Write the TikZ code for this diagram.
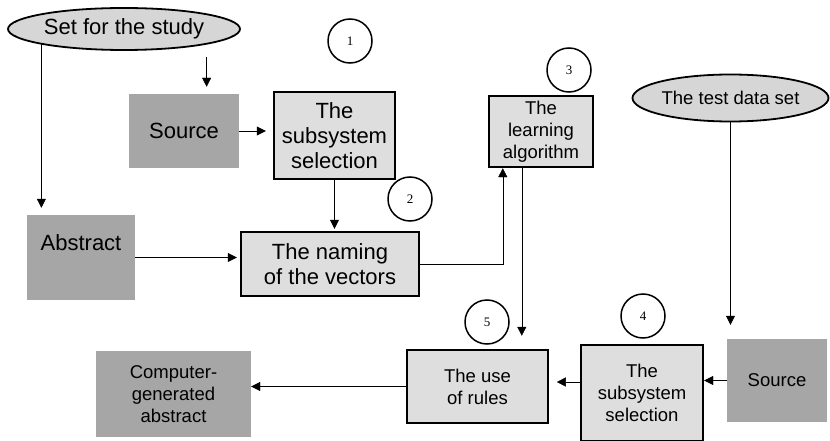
\documentclass[tikz,border=0pt]{standalone}
\usepackage{fontspec}
\setmainfont{Liberation Sans}
\newfontfamily\numfont{Liberation Serif}
\usepackage{xcolor}
\usetikzlibrary{arrows.meta,positioning,shapes.geometric}

\definecolor{darkbox}{RGB}{166,166,166}
\definecolor{lightbox}{RGB}{222,222,222}
\definecolor{ovalfill}{RGB}{214,214,214}

\begin{document}
\begin{tikzpicture}[
  x=1pt, y=-1pt,
  bigtxt/.style={font=\fontsize{22}{25}\selectfont},
  smalltxt/.style={font=\fontsize{18.5}{22}\selectfont},
  plain/.style={fill=darkbox, align=center, inner sep=0pt},
  stage/.style={draw, line width=2.4pt, fill=lightbox, align=center, inner sep=0pt},
  oval/.style={ellipse, draw, line width=1.8pt, fill=ovalfill, inner sep=0pt},
  num/.style={circle, draw, line width=1.5pt, minimum size=44pt, inner sep=0pt,
              font=\numfont\fontsize{13}{15}\selectfont},
  >={Triangle[length=9pt,width=9pt]}
]
\useasboundingbox (0,0) rectangle (830,441);

% training side
\node[oval, bigtxt, minimum width=232pt, minimum height=42pt] (study) at (124,29) {Set for the study};
\node[plain, bigtxt, minimum width=110pt, minimum height=74pt] (src1) at (184,131) {Source};
\node[stage, bigtxt, minimum width=121pt, minimum height=87pt] (sub1) at (334.5,135.5)
  {The\\subsystem\\selection};
\node[plain, bigtxt, minimum width=108pt, minimum height=85pt, text height=16pt, text depth=30pt]
  (abs) at (81,257.5) {Abstract};
\node[stage, bigtxt, minimum width=178pt, minimum height=64pt] (name) at (330,264)
  {The naming\\of the vectors};
\node[stage, smalltxt, minimum width=104pt, minimum height=71pt] (learn) at (541,131.5)
  {The\\learning\\algorithm};

% test side
\node[oval, smalltxt, minimum width=196pt, minimum height=47pt] (test) at (730.5,98) {The test data set};
\node[plain, smalltxt, minimum width=100pt, minimum height=83pt] (src2) at (777,380.5) {Source};
\node[stage, smalltxt, minimum width=122pt, minimum height=96pt] (sub2) at (642,393)
  {The\\subsystem\\selection};
\node[stage, smalltxt, minimum width=141pt, minimum height=73pt] (rules) at (477.5,386.5)
  {The use\\of rules};
\node[plain, smalltxt, minimum width=155pt, minimum height=86pt] (comp) at (173.5,394)
  {Computer-\\generated\\abstract};

% step numbers
\node[num] (n1) at (350,41) {1};
\node[num] (n2) at (410,199) {2};
\node[num] (n3) at (569,70) {3};
\node[num] (n4) at (643,316) {4};
\node[num] (n5) at (487,322) {5};

% connectors
\draw[->] (study.south west) -- ([yshift=7pt]study.south west |- abs.north);
\draw[->] ([yshift=-13pt]study.south east) -- ([yshift=7pt]study.south east |- src1.north);
\draw[->] (src1.east) -- ([xshift=-7pt]sub1.west |- src1.east);
\draw[->] (sub1.south) -- ([yshift=2pt]sub1.south |- name.north);
\draw[->] (abs.east) -- ([xshift=-3pt]name.west |- abs.east);
\draw[->] (name.east) -| ([xshift=15pt]learn.south west);
\draw[->] ([xshift=34pt]learn.south west) -- ([xshift=34pt,yshift=13pt]learn.south west |- rules.north);
\draw[->] (test.south) -- ([yshift=14pt]test.south |- src2.north);
\draw[->] (src2.west) -- (sub2.east |- src2.west);
\draw[->] ([yshift=11pt]sub2.west) -- ++(-23pt,0);
\draw[->] (rules.west) -- (rules.west -| comp.east);
\end{tikzpicture}
\end{document}
